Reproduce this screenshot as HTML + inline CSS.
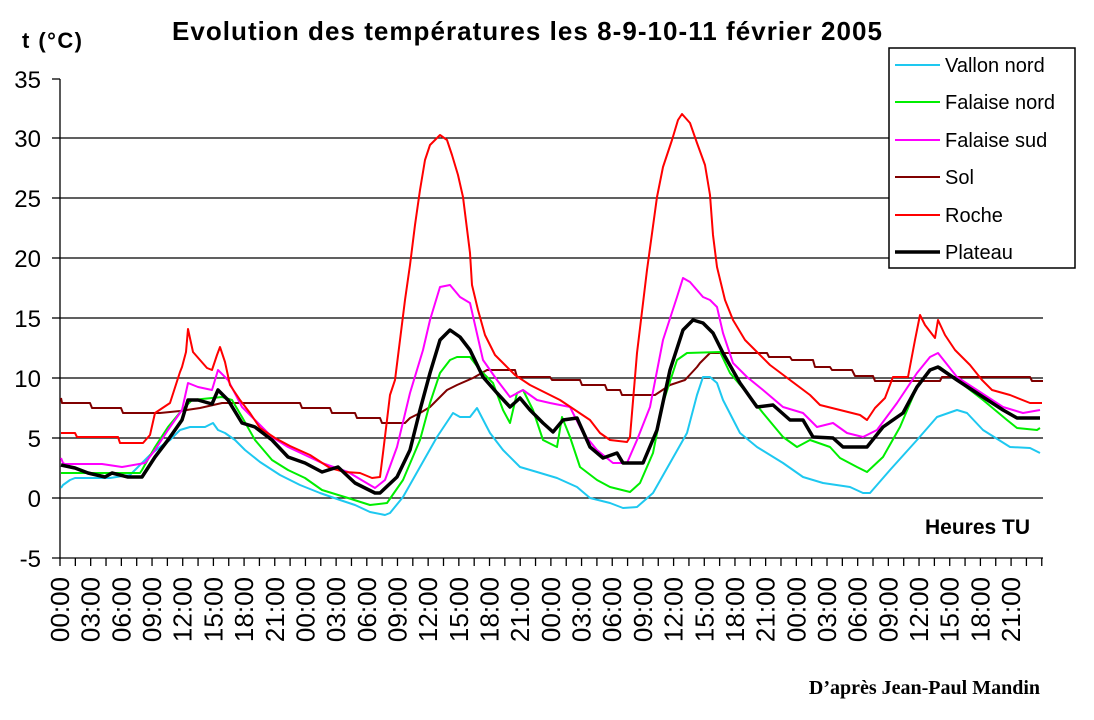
<!DOCTYPE html>
<html><head><meta charset="utf-8"><style>
html,body{margin:0;padding:0;background:#fff}
svg{display:block;font-family:"Liberation Sans",Arial,sans-serif}
</style></head><body>
<svg width="1094" height="720" viewBox="0 0 1094 720" xmlns="http://www.w3.org/2000/svg">
<rect width="1094" height="720" fill="#fff"/>
<text x="172" y="40" font-size="26" font-weight="bold" textLength="710" lengthAdjust="spacing">Evolution des températures les 8-9-10-11 février 2005</text>
<text x="22" y="48" font-size="22" font-weight="bold" textLength="60" lengthAdjust="spacing">t (°C)</text>
<g stroke="#000" stroke-width="1.3">
<line x1="60" y1="138" x2="889" y2="138"/>
<line x1="60" y1="198" x2="889" y2="198"/>
<line x1="60" y1="258" x2="889" y2="258"/>
<line x1="60" y1="318" x2="1043" y2="318"/>
<line x1="60" y1="378" x2="1043" y2="378"/>
<line x1="60" y1="438" x2="1043" y2="438"/>
<line x1="60" y1="498" x2="1043" y2="498"/>
<line x1="60" y1="79" x2="60" y2="558"/>
<line x1="52" y1="558" x2="1043" y2="558"/>
<line x1="52" y1="79" x2="60" y2="79"/>
<line x1="52" y1="138" x2="60" y2="138"/>
<line x1="52" y1="198" x2="60" y2="198"/>
<line x1="52" y1="258" x2="60" y2="258"/>
<line x1="52" y1="318" x2="60" y2="318"/>
<line x1="52" y1="378" x2="60" y2="378"/>
<line x1="52" y1="438" x2="60" y2="438"/>
<line x1="52" y1="498" x2="60" y2="498"/>
</g>
<g stroke="#000" stroke-width="1.3" id="ticks"></g>
<g font-size="24" text-anchor="end">
<text x="41" y="88">35</text><text x="41" y="147">30</text><text x="41" y="207">25</text><text x="41" y="267">20</text>
<text x="41" y="327">15</text><text x="41" y="387">10</text><text x="41" y="447">5</text><text x="41" y="507">0</text><text x="41" y="567">-5</text>
</g>
<g id="xl" font-size="26"></g>
<text x="1030" y="534" font-size="21" font-weight="bold" text-anchor="end">Heures TU</text>
<text x="1040" y="694" font-size="20" font-weight="bold" font-family="Liberation Serif,serif" text-anchor="end">D’après Jean-Paul Mandin</text>
<g fill="none" stroke-linejoin="round">
<polyline stroke="#800000" stroke-width="2" points="61,398 62,403 90,403 92,408 121,408 123,413 160,413 180,411 200,408 222,403 300,403 302,408 330,408 332,413 355,413 357,418 380,418 382,423 405,423 410,418 420,413 430,407 447,390 457,385 473,378 487,370 515,370 517,377 550,377 552,380 580,380 582,385 605,385 607,390 620,390 622,395 655,395 670,385 685,380 697,367 700,363 710,353 767,353 769,357 790,357 792,360 813,360 815,367 830,367 832,370 852,370 855,376 873,376 875,381 940,381 942,377 1030,377 1032,381 1043,381"/>
<polyline stroke="#1ec8f0" stroke-width="2" points="61,488 63,485 70,480 75,478 110,478 130,475 140,465 150,455 160,447 170,440 180,430 190,427 205,427 213,423 218,430 225,433 235,440 245,450 260,462 280,475 300,485 320,493 340,500 355,505 370,512 385,515 390,513 403,497 420,467 437,437 453,413 460,417 470,417 477,408 490,433 503,450 520,467 537,472 557,478 577,487 590,498 610,503 623,508 637,507 653,493 670,463 687,433 697,395 703,377 710,377 717,383 723,400 740,433 757,447 783,463 803,477 823,483 850,487 863,493 870,493 890,470 917,440 937,417 957,410 967,413 983,430 1010,447 1030,448 1040,453"/>
<polyline stroke="#00ee00" stroke-width="2" points="61,473 140,473 142,470 155,447 168,427 182,410 192,400 212,398 222,397 232,400 242,417 255,440 272,460 288,470 305,478 322,490 348,498 370,505 387,503 403,480 420,440 430,403 440,373 450,360 457,357 470,357 480,370 493,383 503,410 510,423 517,393 523,390 533,410 543,440 557,447 562,417 570,437 580,467 597,480 610,487 630,492 640,483 653,453 663,403 677,360 687,353 720,352 730,373 747,393 763,413 783,437 797,447 810,440 830,447 840,458 857,467 867,472 883,457 900,427 917,387 930,370 940,367 957,380 983,400 1007,420 1017,428 1037,430 1040,428"/>
<polyline stroke="#ff00ff" stroke-width="2" points="61,458 63,463 65,464 102,464 122,467 145,463 155,450 168,430 182,410 188,383 198,387 212,390 218,370 228,380 242,407 255,420 272,437 288,447 305,455 322,463 348,472 375,488 385,480 397,447 410,393 423,350 430,320 440,287 450,285 460,297 470,303 483,360 497,380 510,397 523,390 537,400 550,403 570,407 583,433 597,450 613,463 627,463 637,440 650,407 663,340 677,297 683,278 690,282 703,297 710,300 717,307 723,333 733,363 747,377 763,390 783,407 803,413 817,427 833,423 847,433 863,437 877,430 897,403 917,373 930,357 938,353 957,377 977,390 1003,407 1023,413 1040,410"/>
<polyline stroke="#ff0000" stroke-width="2" points="61,433 75,433 77,437 118,437 120,443 143,443 150,435 155,413 170,403 180,372 182,367 186,352 188,329 193,352 200,360 207,368 212,370 217,355 220,347 225,362 230,385 240,400 250,413 260,428 275,438 290,446 310,455 330,468 345,472 360,473 372,478 380,477 383,453 387,420 390,395 395,380 400,340 405,300 410,265 415,225 420,190 425,160 430,145 440,135 447,140 452,155 458,175 463,197 470,253 472,285 478,310 485,335 495,355 505,365 515,375 530,385 550,395 560,400 575,410 590,420 600,433 610,440 627,442 630,437 637,353 647,270 657,197 663,167 672,140 678,120 682,114 690,123 697,143 705,165 710,195 713,235 717,267 725,300 733,320 745,340 755,350 770,365 790,380 810,395 820,405 840,410 860,415 867,420 875,408 885,398 893,377 908,377 915,340 920,315 925,325 935,338 938,320 945,335 955,350 970,365 982,380 992,390 1010,395 1030,403 1042,403"/>
<polyline stroke="#000" stroke-width="3.5" points="61,465 75,468 88,473 105,477 112,473 128,477 142,477 155,457 168,440 182,420 188,400 198,400 212,404 218,390 228,400 242,423 255,427 272,440 288,457 305,463 322,472 338,467 355,483 375,493 380,493 397,477 410,450 420,410 430,373 440,340 450,330 460,337 470,350 483,377 497,393 510,407 520,398 530,410 543,423 553,432 563,420 577,418 590,447 603,458 617,453 623,463 643,463 657,430 670,370 683,330 693,320 703,323 713,333 723,353 740,383 757,407 773,405 790,420 803,420 813,437 833,438 843,447 867,447 883,427 903,413 917,387 930,370 938,367 957,380 983,397 1003,410 1017,418 1040,418"/>
</g>
<rect x="889" y="48" width="186" height="220" fill="#fff" stroke="#000" stroke-width="1.5"/>
<g stroke-width="2">
<line x1="895" y1="65" x2="940" y2="65" stroke="#1ec8f0"/>
<line x1="895" y1="102" x2="940" y2="102" stroke="#00ee00"/>
<line x1="895" y1="140" x2="940" y2="140" stroke="#ff00ff"/>
<line x1="895" y1="177" x2="940" y2="177" stroke="#800000"/>
<line x1="895" y1="215" x2="940" y2="215" stroke="#ff0000"/>
<line x1="895" y1="252" x2="940" y2="252" stroke="#000" stroke-width="3.5"/>
</g>
<g font-size="20">
<text x="945" y="72">Vallon nord</text>
<text x="945" y="109">Falaise nord</text>
<text x="945" y="147">Falaise sud</text>
<text x="945" y="184">Sol</text>
<text x="945" y="222">Roche</text>
<text x="945" y="259">Plateau</text>
</g>
<script>
(function(){
var ns="http://www.w3.org/2000/svg",t=document.getElementById("ticks"),xl=document.getElementById("xl");
for(var i=0;i<=64;i++){var x=60+i*15.34;var l=document.createElementNS(ns,"line");l.setAttribute("x1",x);l.setAttribute("x2",x);l.setAttribute("y1",558);l.setAttribute("y2",566);t.appendChild(l);}
var labs=["00:00","03:00","06:00","09:00","12:00","15:00","18:00","21:00"];
for(var j=0;j<32;j++){var x=60+j*30.68+9;var tx=document.createElementNS(ns,"text");tx.setAttribute("transform","translate("+x+",577) rotate(-90)");tx.setAttribute("text-anchor","end");tx.textContent=labs[j%8];xl.appendChild(tx);}
})();
</script>
</svg>
</body></html>
